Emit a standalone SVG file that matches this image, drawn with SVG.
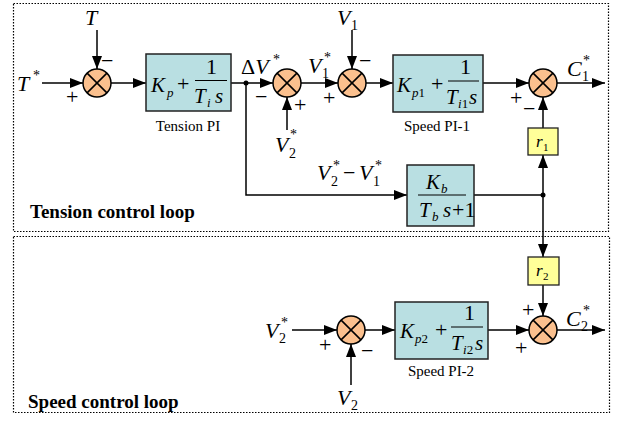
<svg xmlns="http://www.w3.org/2000/svg" width="617" height="423" viewBox="0 0 617 423" font-family="'Liberation Serif', 'Times New Roman', Times, serif">
<style>
text{font-family:'Liberation Serif','Times New Roman',Times,serif;fill:#000}
.m{font-style:italic;font-size:22px}
.b{font-style:italic;font-size:21px}
.s{font-size:13px;font-style:italic}
.n{font-size:14px}
.st{font-size:14px}
.sg{font-size:22px}
.lb{font-size:15px;text-anchor:middle}
.h{font-size:19px;font-weight:bold}
.w{stroke:#000;stroke-width:1.5;fill:none}
.a{stroke:#000;stroke-width:1.5;fill:none;marker-end:url(#ah)}
.blk{fill:#b9dfe2;stroke:#222;stroke-width:1.5}
.gain{fill:#ffff99;stroke:#222;stroke-width:1.3}
.sum circle{fill:#fbc08e;stroke:#000;stroke-width:1.5}
.sum path{stroke:#000;stroke-width:1.5}
.frame{fill:none;stroke:#000;stroke-width:1.2;stroke-dasharray:1.5 1.5}
</style>
<defs>
<marker id="ah" markerUnits="userSpaceOnUse" markerWidth="14" markerHeight="10" refX="13" refY="5" orient="auto">
<path d="M0,0 L13,5 L0,10 Z" fill="#000"/>
</marker>
</defs>

<g id="frames">
<rect class="frame" x="13.5" y="3.5" width="595" height="228"/>
<rect class="frame" x="13.5" y="236.5" width="596" height="176"/>
<text class="h" x="30" y="218">Tension control loop</text>
<text class="h" x="28" y="408">Speed control loop</text>
</g>

<g id="connectors">
<line class="a" x1="42" y1="83" x2="83" y2="83"/>
<line class="a" x1="97" y1="30" x2="97" y2="69"/>
<line class="a" x1="111" y1="83" x2="146" y2="83"/>
<line class="a" x1="231" y1="83" x2="273" y2="83"/>
<line class="a" x1="287" y1="130" x2="287" y2="97"/>
<line class="a" x1="301" y1="83" x2="338" y2="83"/>
<line class="a" x1="352" y1="30" x2="352" y2="69"/>
<line class="a" x1="366" y1="83" x2="393" y2="83"/>
<line class="a" x1="483" y1="83" x2="529" y2="83"/>
<line class="a" x1="557" y1="83" x2="605" y2="83"/>
<line class="a" x1="543" y1="128" x2="543" y2="97"/>
<polyline class="a" points="246,83 246,195 407,195"/>
<line class="w" x1="474" y1="195" x2="543" y2="195"/>
<line class="a" x1="543" y1="195" x2="543" y2="155"/>
<line class="a" x1="543" y1="195" x2="543" y2="257"/>
<line class="a" x1="543" y1="285" x2="543" y2="316"/>
<line class="a" x1="557" y1="330" x2="605" y2="330"/>
<line class="a" x1="292" y1="330" x2="337" y2="330"/>
<line class="a" x1="351" y1="385" x2="351" y2="344"/>
<line class="a" x1="365" y1="330" x2="395" y2="330"/>
<line class="a" x1="488" y1="330" x2="529" y2="330"/>
<circle cx="246" cy="83" r="2.5" fill="#000"/>
<circle cx="543" cy="195" r="2.5" fill="#000"/>
</g>

<g id="sum1" class="sum"><circle cx="97" cy="83" r="14"/><path d="M87.1,73.1 L106.9,92.9 M87.1,92.9 L106.9,73.1"/></g>
<g id="sum2" class="sum"><circle cx="287" cy="83" r="14"/><path d="M277.1,73.1 L296.9,92.9 M277.1,92.9 L296.9,73.1"/></g>
<g id="sum3" class="sum"><circle cx="352" cy="83" r="14"/><path d="M342.1,73.1 L361.9,92.9 M342.1,92.9 L361.9,73.1"/></g>
<g id="sum4" class="sum"><circle cx="543" cy="83" r="14"/><path d="M533.1,73.1 L552.9,92.9 M533.1,92.9 L552.9,73.1"/></g>
<g id="sum5" class="sum"><circle cx="543" cy="330" r="14"/><path d="M533.1,320.1 L552.9,339.9 M533.1,339.9 L552.9,320.1"/></g>
<g id="sum6" class="sum"><circle cx="351" cy="330" r="14"/><path d="M341.1,320.1 L360.9,339.9 M341.1,339.9 L360.9,320.1"/></g>

<g id="labels">
<text class="m" x="17" y="91">T</text><text class="st" x="33" y="80">*</text>
<text class="sg" x="66" y="104">+</text>
<text class="m" x="85" y="25">T</text>
<text class="sg" x="101" y="68">−</text>
<text class="m" x="241" y="74"><tspan font-style="normal">Δ</tspan>V</text><text class="st" x="273" y="64">*</text>
<text class="sg" x="255" y="104">−</text>
<text class="sg" x="294" y="112">+</text>
<text class="m" x="275" y="152">V</text><text class="n" x="289" y="158">2</text><text class="st" x="290" y="139">*</text>
<text class="m" x="308" y="73">V</text><text class="n" x="322" y="78">1</text><text class="st" x="324" y="62">*</text>
<text class="sg" x="323" y="105">+</text>
<text class="m" x="337" y="25">V</text><text class="n" x="351" y="30">1</text>
<text class="sg" x="359" y="68">−</text>
<text class="sg" x="510" y="105">+</text>
<text class="sg" x="523" y="116">−</text>
<text class="m" x="567" y="76">C</text><text class="n" x="582" y="81">1</text><text class="st" x="583" y="65">*</text>
<text class="m" x="317" y="180">V</text><text class="n" x="331" y="186">2</text><text class="st" x="333" y="170">*</text>
<text class="sg" x="343" y="180">−</text>
<text class="m" x="359" y="180">V</text><text class="n" x="373" y="186">1</text><text class="st" x="375" y="170">*</text>
<text class="sg" x="522" y="317">+</text>
<text class="sg" x="515" y="355">+</text>
<text class="m" x="566" y="326">C</text><text class="n" x="581" y="331">2</text><text class="st" x="583" y="315">*</text>
<text class="m" x="265" y="338">V</text><text class="n" x="279" y="343">2</text><text class="st" x="281" y="327">*</text>
<text class="sg" x="319" y="352">+</text>
<text class="sg" x="361" y="358">−</text>
<text class="m" x="337" y="405">V</text><text class="n" x="351" y="410">2</text>
</g>

<g id="tensionPI">
<rect class="blk" x="146" y="54" width="85" height="57"/>
<text class="b" x="151" y="92">K</text><text class="s" x="167" y="97">p</text>
<text class="sg" x="177" y="91" font-size="21">+</text>
<text class="sg" x="206" y="74" font-size="21">1</text>
<line x1="195" y1="80.5" x2="227" y2="80.5" stroke="#000" stroke-width="1"/>
<text class="b" x="194" y="103">T</text><text class="s" x="207" y="107">i</text><text class="b" x="215" y="103">s</text>
<text class="lb" x="188" y="131">Tension PI</text>
</g>

<g id="speedPI1">
<rect class="blk" x="393" y="55" width="90" height="57"/>
<text class="b" x="397" y="92">K</text><text class="s" x="412" y="97">p<tspan font-style="normal">1</tspan></text>
<text class="sg" x="431" y="91" font-size="21">+</text>
<text class="sg" x="460" y="74" font-size="21">1</text>
<line x1="448" y1="81" x2="479" y2="81" stroke="#000" stroke-width="1"/>
<text class="b" x="446" y="104">T</text><text class="s" x="458" y="108">i<tspan font-style="normal">1</tspan></text><text class="b" x="469" y="104">s</text>
<text class="lb" x="437" y="131">Speed PI-1</text>
</g>

<g id="r1">
<rect class="gain" x="528" y="128" width="30" height="27"/>
<text x="536" y="147" font-style="italic" font-size="17">r</text><text x="543" y="151" font-size="11">1</text>
</g>

<g id="kb">
<rect class="blk" x="407" y="165" width="67" height="61"/>
<text class="b" x="426" y="189">K</text><text class="s" x="441" y="193">b</text>
<line x1="418" y1="195" x2="466" y2="195" stroke="#000" stroke-width="1"/>
<text class="b" x="419" y="217">T</text><text class="s" x="432" y="221">b</text><text class="b" x="443" y="217">s</text>
<text class="sg" x="452" y="217" font-size="21">+1</text>
</g>

<g id="r2">
<rect class="gain" x="528" y="257" width="31" height="28"/>
<text x="536" y="276" font-style="italic" font-size="17">r</text><text x="543" y="280" font-size="11">2</text>
</g>

<g id="speedPI2">
<rect class="blk" x="395" y="302" width="93" height="57"/>
<text class="b" x="400" y="338">K</text><text class="s" x="415" y="343">p<tspan font-style="normal">2</tspan></text>
<text class="sg" x="435" y="337" font-size="21">+</text>
<text class="sg" x="464" y="320" font-size="21">1</text>
<line x1="451" y1="327" x2="483" y2="327" stroke="#000" stroke-width="1"/>
<text class="b" x="451" y="350">T</text><text class="s" x="463" y="354">i<tspan font-style="normal">2</tspan></text><text class="b" x="475" y="350">s</text>
<text class="lb" x="441" y="376">Speed PI-2</text>
</g>
</svg>
